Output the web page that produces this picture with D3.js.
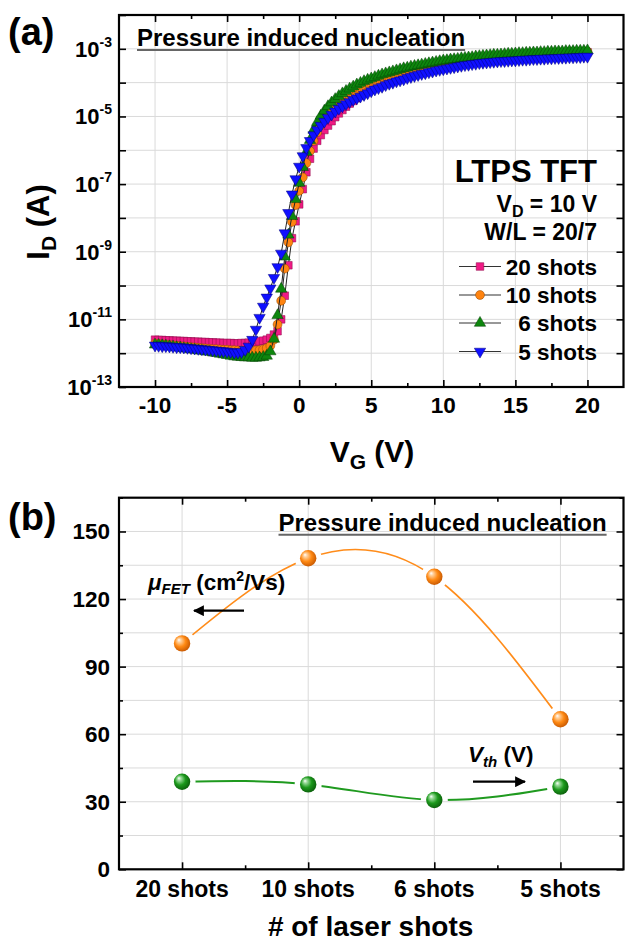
<!DOCTYPE html>
<html>
<head>
<meta charset="utf-8">
<script src="https://cdn.jsdelivr.net/npm/d3@7"></script>
<style>
    body { margin: 0; background: #fff; }
    svg { display: block; font-family: "Liberation Sans", Arial, sans-serif; font-weight: bold; }
    .grid line { stroke: #dadada; stroke-width: 1; }
    .axis path { display: none; }
    .axis line { stroke: #000; stroke-width: 1.6; }
    .frame { fill: none; stroke: #000; stroke-width: 2.2; }
</style>
</head>
<body>
<div id="fig"></div>
<script>
"use strict"

// ---- panel (a): transfer curves, gate sweep in V, drain current as log10(A)
const VG = [
    -10,-9.75,-9.5,-9.25,-9,-8.75,-8.5,-8.25,-8,-7.75,-7.5,-7.25,-7,-6.75,-6.5,-6.25,-6,-5.75,-5.5,-5.25,
    -5,-4.75,-4.5,-4.25,-4,-3.75,-3.5,-3.25,-3,-2.75,-2.5,-2.25,-2,-1.75,-1.5,-1.25,-1,-0.75,-0.5,-0.25,
    0,0.25,0.5,0.75,1,1.25,1.5,1.75,2,2.25,2.5,2.75,3,3.25,3.5,3.75,4,4.25,4.5,4.75,
    5,5.25,5.5,5.75,6,6.25,6.5,6.75,7,7.25,7.5,7.75,8,8.25,8.5,8.75,9,9.25,9.5,9.75,
    10,10.25,10.5,10.75,11,11.25,11.5,11.75,12,12.25,12.5,12.75,13,13.25,13.5,13.75,14,14.25,14.5,14.75,
    15,15.25,15.5,15.75,16,16.25,16.5,16.75,17,17.25,17.5,17.75,18,18.25,18.5,18.75,19,19.25,19.5,19.75,20
]
const logI20 = [
    -11.60,-11.61,-11.61,-11.62,-11.62,-11.63,-11.63,-11.64,-11.64,-11.65,-11.65,-11.66,-11.66,-11.67,-11.67,-11.68,-11.68,-11.69,-11.69,-11.70,
    -11.70,-11.70,-11.71,-11.71,-11.70,-11.70,-11.69,-11.68,-11.67,-11.65,-11.63,-11.60,-11.55,-11.45,-11.35,-11.00,-10.30,-9.40,-8.60,-8.10,
    -7.60,-7.15,-6.65,-6.25,-5.95,-5.72,-5.55,-5.40,-5.27,-5.14,-5.02,-4.91,-4.81,-4.71,-4.62,-4.54,-4.46,-4.38,-4.31,-4.24,
    -4.18,-4.13,-4.08,-4.04,-4.00,-3.96,-3.92,-3.88,-3.84,-3.81,-3.77,-3.74,-3.71,-3.68,-3.65,-3.62,-3.59,-3.56,-3.53,-3.51,
    -3.48,-3.46,-3.44,-3.42,-3.40,-3.38,-3.36,-3.34,-3.33,-3.31,-3.30,-3.28,-3.27,-3.26,-3.25,-3.24,-3.23,-3.22,-3.21,-3.20,
    -3.20,-3.19,-3.18,-3.18,-3.17,-3.16,-3.16,-3.15,-3.15,-3.14,-3.14,-3.13,-3.13,-3.12,-3.12,-3.12,-3.11,-3.11,-3.11,-3.10,-3.10
]
const logI10 = [
    -11.72,-11.73,-11.74,-11.75,-11.76,-11.77,-11.78,-11.79,-11.80,-11.81,-11.82,-11.83,-11.84,-11.85,-11.86,-11.87,-11.88,-11.88,-11.89,-11.90,
    -11.90,-11.91,-11.91,-11.92,-11.92,-11.92,-11.93,-11.93,-11.92,-11.91,-11.89,-11.85,-11.78,-11.60,-11.15,-10.45,-9.50,-8.72,-8.12,-7.62,
    -7.20,-6.80,-6.38,-6.02,-5.72,-5.47,-5.26,-5.10,-4.96,-4.85,-4.75,-4.66,-4.57,-4.49,-4.41,-4.34,-4.27,-4.21,-4.15,-4.09,
    -4.03,-3.99,-3.95,-3.91,-3.87,-3.84,-3.80,-3.77,-3.74,-3.71,-3.68,-3.65,-3.63,-3.60,-3.58,-3.55,-3.53,-3.51,-3.49,-3.47,
    -3.45,-3.43,-3.41,-3.39,-3.37,-3.36,-3.34,-3.33,-3.31,-3.30,-3.29,-3.27,-3.26,-3.25,-3.24,-3.23,-3.22,-3.21,-3.20,-3.19,
    -3.19,-3.18,-3.17,-3.16,-3.16,-3.15,-3.14,-3.14,-3.13,-3.13,-3.12,-3.12,-3.11,-3.11,-3.10,-3.10,-3.09,-3.09,-3.09,-3.08,-3.08
]
const logI6 = [
    -11.75,-11.76,-11.77,-11.78,-11.80,-11.81,-11.83,-11.84,-11.86,-11.87,-11.89,-11.90,-11.92,-11.93,-11.95,-11.96,-11.98,-12.00,-12.02,-12.04,
    -12.06,-12.08,-12.10,-12.11,-12.12,-12.13,-12.13,-12.14,-12.14,-12.13,-12.12,-12.08,-11.95,-11.58,-10.88,-10.10,-9.15,-8.50,-7.95,-7.45,
    -6.97,-6.50,-6.05,-5.70,-5.40,-5.17,-4.98,-4.83,-4.70,-4.59,-4.49,-4.40,-4.32,-4.25,-4.18,-4.12,-4.06,-4.01,-3.96,-3.92,
    -3.88,-3.84,-3.80,-3.76,-3.73,-3.70,-3.67,-3.64,-3.61,-3.58,-3.56,-3.53,-3.51,-3.49,-3.47,-3.45,-3.43,-3.41,-3.39,-3.37,
    -3.35,-3.34,-3.32,-3.31,-3.30,-3.28,-3.27,-3.26,-3.25,-3.23,-3.22,-3.21,-3.20,-3.19,-3.18,-3.18,-3.17,-3.16,-3.15,-3.15,
    -3.14,-3.13,-3.13,-3.12,-3.12,-3.11,-3.11,-3.10,-3.10,-3.09,-3.09,-3.08,-3.08,-3.08,-3.07,-3.07,-3.07,-3.06,-3.06,-3.06,-3.05
]
const logI5 = [
    -11.77,-11.78,-11.79,-11.79,-11.80,-11.81,-11.82,-11.82,-11.83,-11.84,-11.85,-11.86,-11.87,-11.88,-11.89,-11.90,-11.91,-11.92,-11.93,-11.94,
    -11.95,-11.96,-11.98,-11.98,-11.96,-11.90,-11.80,-11.60,-11.30,-10.95,-10.62,-10.35,-10.08,-9.77,-9.45,-9.05,-8.45,-7.85,-7.30,-6.85,
    -6.48,-6.17,-5.93,-5.72,-5.55,-5.40,-5.27,-5.15,-5.04,-4.94,-4.85,-4.77,-4.70,-4.63,-4.57,-4.51,-4.46,-4.41,-4.36,-4.31,
    -4.25,-4.20,-4.16,-4.12,-4.07,-4.03,-4.00,-3.96,-3.93,-3.90,-3.86,-3.83,-3.80,-3.77,-3.74,-3.72,-3.69,-3.67,-3.64,-3.62,
    -3.60,-3.58,-3.56,-3.54,-3.52,-3.50,-3.48,-3.47,-3.45,-3.44,-3.42,-3.41,-3.40,-3.39,-3.38,-3.37,-3.36,-3.36,-3.35,-3.34,
    -3.34,-3.33,-3.32,-3.32,-3.31,-3.30,-3.30,-3.29,-3.29,-3.28,-3.28,-3.27,-3.27,-3.26,-3.26,-3.25,-3.25,-3.24,-3.24,-3.23,-3.23
]
const seriesNames = ["20 shots", "10 shots", "6 shots", "5 shots"]
const xTicksA = [-10, -5, 0, 5, 10, 15, 20]
const xMinorA = [-7.5, -2.5, 2.5, 7.5, 12.5, 17.5]
const yLabelExpA = [-13, -11, -9, -7, -5, -3]

// ---- panel (b): mobility and threshold voltage vs laser shots
const shotCats = ["20 shots", "10 shots", "6 shots", "5 shots"]
const mobility = [100.3, 138.1, 129.9, 66.6]
const vth = [38.9, 37.7, 30.8, 36.7]
const yTicksB = [0, 30, 60, 90, 120, 150]
const yMinorB = [15, 45, 75, 105, 135, 165]
const yGridB = [15, 30, 45, 60, 75, 90, 105, 120, 135, 150]

const fig = (function() {

    const W = 625, H = 944
    const svg = d3.select("#fig").append("svg")
                    .attr("width", W).attr("height", H)
                    .attr("viewBox", `0 0 ${ W } ${ H }`)
    const defs = svg.append("defs")

    // inward ticks on all four sides
    function ticks(g, axisFn, scale, values, size, tx, ty) {
        g.append("g")
            .attr("class", "axis")
            .attr("transform", `translate(${ tx }, ${ ty })`)
            .call(axisFn(scale).tickValues(values).tickSize(size).tickFormat(""))
    }

    function underlined(g, txt, x, y, anchor, size) {
        const t = g.append("text")
                    .attr("x", x).attr("y", y)
                    .attr("text-anchor", anchor)
                    .attr("font-size", size)
                    .text(txt)
        const bb = t.node().getBBox()
        g.append("line")
            .attr("x1", bb.x).attr("x2", bb.x + bb.width)
            .attr("y1", y + 4).attr("y2", y + 4)
            .attr("stroke", "#666").attr("stroke-width", 2)
    }

    function panelA() {
        const f = { l: 119, r: 623.5, t: 15, b: 387 }
        const x = d3.scaleLinear().domain([-12.5, 22.5]).range([f.l, f.r])
        const y = d3.scaleLog().domain([1e-13, 1e-2]).range([f.b, f.t])
        const g = svg.append("g")

        const decades = d3.range(-12, -2).map(e => Math.pow(10, e))
        const grid = g.append("g").attr("class", "grid")
        grid.selectAll(".gx").data(xTicksA).enter().append("line")
            .attr("x1", d => x(d)).attr("x2", d => x(d)).attr("y1", f.t).attr("y2", f.b)
        grid.selectAll(".gy").data(decades).enter().append("line")
            .attr("x1", f.l).attr("x2", f.r).attr("y1", d => y(d)).attr("y2", d => y(d))

        // series
        const series = [
            { name: seriesNames[0], logs: logI20, fill: "#ef1a85", stroke: "#8a0a48", sym: d3.symbolSquare, size: 58, rot: 0 },
            { name: seriesNames[1], logs: logI10, fill: "#ff8410", stroke: "#8a4200", sym: d3.symbolCircle, size: 62, rot: 0 },
            { name: seriesNames[2], logs: logI6,  fill: "#0e860e", stroke: "#054005", sym: d3.symbolTriangle, size: 56, rot: 0 },
            { name: seriesNames[3], logs: logI5,  fill: "#1010ff", stroke: "#00007a", sym: d3.symbolTriangle, size: 56, rot: 180 },
        ]
        const line = d3.line().x(d => x(d[0])).y(d => y(d[1]))
        series.forEach(s => {
            const pts = VG.map((v, i) => [v, Math.pow(10, s.logs[i])])
            const sg = g.append("g")
            sg.append("path").datum(pts)
                .attr("d", line).attr("fill", "none").attr("stroke", "#222").attr("stroke-width", 1)
            sg.selectAll("path.pt").data(pts).enter().append("path")
                .attr("class", "pt")
                .attr("d", d3.symbol().type(s.sym).size(s.size))
                .attr("fill", s.fill).attr("stroke", s.stroke).attr("stroke-width", 0.5)
                .attr("transform", d => `translate(${ x(d[0]) }, ${ y(d[1]) }) rotate(${ s.rot })`)
        })

        // ticks
        const minorY = y.ticks().filter(v => Math.abs(Math.log10(v) - Math.round(Math.log10(v))) > 1e-6)
        ticks(g, d3.axisBottom, x, xTicksA, -7, 0, f.b)
        ticks(g, d3.axisBottom, x, xMinorA, -4, 0, f.b)
        ticks(g, d3.axisTop, x, xTicksA, -7, 0, f.t)
        ticks(g, d3.axisTop, x, xMinorA, -4, 0, f.t)
        ticks(g, d3.axisLeft, y, decades.concat([1e-13, 1e-2]), -7, f.l, 0)
        ticks(g, d3.axisLeft, y, minorY, -4, f.l, 0)
        ticks(g, d3.axisRight, y, decades, -7, f.r, 0)
        ticks(g, d3.axisRight, y, minorY, -4, f.r, 0)

        g.append("rect").attr("class", "frame")
            .attr("x", f.l).attr("y", f.t).attr("width", f.r - f.l).attr("height", f.b - f.t)

        // tick labels
        g.selectAll(".xl").data(xTicksA).enter().append("text")
            .attr("x", d => x(d)).attr("y", 413).attr("text-anchor", "middle")
            .attr("font-size", 22.5).text(d => d)
        yLabelExpA.forEach(e => {
            const t = g.append("text")
                        .attr("x", 112).attr("y", y(Math.pow(10, e)) + 8)
                        .attr("text-anchor", "end").attr("font-size", 22)
            t.append("tspan").text("10")
            t.append("tspan").attr("dy", -10).attr("font-size", 14).text(e)
        })

        // axis titles
        const yt = g.append("text")
                    .attr("transform", `translate(49, 222) rotate(-90)`)
                    .attr("text-anchor", "middle").attr("font-size", 31)
        yt.append("tspan").text("I")
        yt.append("tspan").attr("dy", 7).attr("font-size", 21).text("D")
        yt.append("tspan").attr("dy", -7).text(" (A)")

        const xt = g.append("text")
                    .attr("x", 372).attr("y", 462)
                    .attr("text-anchor", "middle").attr("font-size", 30)
        xt.append("tspan").text("V")
        xt.append("tspan").attr("dy", 7).attr("font-size", 21).text("G")
        xt.append("tspan").attr("dy", -7).text(" (V)")

        g.append("text").attr("x", 8).attr("y", 45).attr("font-size", 38).text("(a)")
        underlined(g, "Pressure induced nucleation", 137, 46, "start", 24)

        // device info + legend
        g.append("text").attr("x", 597).attr("y", 182).attr("text-anchor", "end")
            .attr("font-size", 31).text("LTPS TFT")
        const vd = g.append("text").attr("x", 597).attr("y", 212).attr("text-anchor", "end").attr("font-size", 23)
        vd.append("tspan").text("V")
        vd.append("tspan").attr("dy", 5).attr("font-size", 16).text("D")
        vd.append("tspan").attr("dy", -5).text(" = 10 V")
        g.append("text").attr("x", 597).attr("y", 240).attr("text-anchor", "end")
            .attr("font-size", 23).text("W/L = 20/7")

        const rows = [266.5, 295, 323, 351.5]
        series.forEach((s, i) => {
            const ly = rows[i]
            g.append("line").attr("x1", 459).attr("x2", 501).attr("y1", ly).attr("y2", ly)
                .attr("stroke", "#333").attr("stroke-width", 1.2)
            g.append("path")
                .attr("d", d3.symbol().type(s.sym).size(s.size)())
                .attr("fill", s.fill).attr("stroke", s.stroke).attr("stroke-width", 0.5)
                .attr("transform", `translate(480, ${ ly }) rotate(${ s.rot })`)
            g.append("text").attr("x", 597).attr("y", ly + 8).attr("text-anchor", "end")
                .attr("font-size", 22.5).text(s.name)
        })
    }

    function sphere(id, light, base, dark) {
        const gr = defs.append("radialGradient").attr("id", id)
                    .attr("cx", "45%").attr("cy", "45%").attr("r", "60%")
                    .attr("fx", "30%").attr("fy", "28%")
        gr.append("stop").attr("offset", "0%").attr("stop-color", "#ffffff")
        gr.append("stop").attr("offset", "18%").attr("stop-color", light)
        gr.append("stop").attr("offset", "55%").attr("stop-color", base)
        gr.append("stop").attr("offset", "100%").attr("stop-color", dark)
    }

    function panelB() {
        const f = { l: 119, r: 623.5, t: 497.7, b: 869.3 }
        const x = d3.scaleLinear().domain([-0.5, 3.5]).range([f.l, f.r])
        const y = d3.scaleLinear().domain([0, 165]).range([f.b, f.t])
        const g = svg.append("g")
        const idx = shotCats.map((c, i) => i)

        const grid = g.append("g").attr("class", "grid")
        grid.selectAll(".gx").data(idx).enter().append("line")
            .attr("x1", d => x(d)).attr("x2", d => x(d)).attr("y1", f.t).attr("y2", f.b)
        grid.selectAll(".gy").data(yGridB).enter().append("line")
            .attr("x1", f.l).attr("x2", f.r).attr("y1", d => y(d)).attr("y2", d => y(d))

        const half = [0.5, 1.5, 2.5]
        ticks(g, d3.axisBottom, x, idx, -7, 0, f.b)
        ticks(g, d3.axisBottom, x, half, -4, 0, f.b)
        ticks(g, d3.axisTop, x, idx, -7, 0, f.t)
        ticks(g, d3.axisTop, x, half, -4, 0, f.t)
        ticks(g, d3.axisLeft, y, yTicksB, -7, f.l, 0)
        ticks(g, d3.axisLeft, y, yMinorB, -4, f.l, 0)
        ticks(g, d3.axisRight, y, yTicksB, -7, f.r, 0)
        ticks(g, d3.axisRight, y, yMinorB, -4, f.r, 0)

        g.append("rect").attr("class", "frame")
            .attr("x", f.l).attr("y", f.t).attr("width", f.r - f.l).attr("height", f.b - f.t)

        sphere("sphOrange", "#ffd2a0", "#ff8a14", "#c25400")
        sphere("sphGreen", "#9edc9e", "#1c991c", "#0a5a0a")

        const curves = [
            { vals: mobility, color: "#ff8c1a", width: 1.6, grad: "sphOrange", id: "mMob" },
            { vals: vth, color: "#1f9a1f", width: 2, grad: "sphGreen", id: "mVth" },
        ]
        const line = d3.line().curve(d3.curveNatural).x((d, i) => x(i)).y(d => y(d))
        curves.forEach(c => {
            // gap around each symbol, like the plotting program does
            const m = defs.append("mask").attr("id", c.id).attr("maskUnits", "userSpaceOnUse")
                        .attr("x", 0).attr("y", 0).attr("width", W).attr("height", H)
            m.append("rect").attr("width", W).attr("height", H).attr("fill", "#fff")
            m.selectAll("circle").data(c.vals).enter().append("circle")
                .attr("cx", (d, i) => x(i)).attr("cy", d => y(d)).attr("r", 13.5).attr("fill", "#000")
            g.append("path").datum(c.vals)
                .attr("d", line).attr("fill", "none")
                .attr("stroke", c.color).attr("stroke-width", c.width)
                .attr("mask", `url(#${ c.id })`)
            g.selectAll(null).data(c.vals).enter().append("circle")
                .attr("cx", (d, i) => x(i)).attr("cy", d => y(d)).attr("r", 8.2)
                .attr("fill", `url(#${ c.grad })`)
        })

        // labels
        g.selectAll(".xl").data(shotCats).enter().append("text")
            .attr("x", (d, i) => x(i)).attr("y", 897).attr("text-anchor", "middle")
            .attr("font-size", 23).text(d => d)
        g.selectAll(".yl").data(yTicksB).enter().append("text")
            .attr("x", 110).attr("y", d => y(d) + 8).attr("text-anchor", "end")
            .attr("font-size", 22.5).text(d => d)

        g.append("text").attr("x", 370.6).attr("y", 936).attr("text-anchor", "middle")
            .attr("font-size", 28).text("# of laser shots")
        g.append("text").attr("x", 8).attr("y", 530).attr("font-size", 38).text("(b)")
        underlined(g, "Pressure induced nucleation", 606.6, 530.7, "end", 24)

        // annotations with arrows
        defs.append("marker").attr("id", "arrowHead")
            .attr("viewBox", "0 0 10 10").attr("refX", 9).attr("refY", 5)
            .attr("markerWidth", 5).attr("markerHeight", 5).attr("orient", "auto")
            .attr("markerUnits", "strokeWidth")
            .append("path").attr("d", "M0,0 L10,5 L0,10 z").attr("fill", "#000")

        const mu = g.append("text").attr("x", 148).attr("y", 590).attr("font-size", 22.5)
        mu.append("tspan").attr("font-style", "italic").text("\u03bc")
        mu.append("tspan").attr("font-style", "italic").attr("font-size", 15).attr("dy", 4).text("FET")
        mu.append("tspan").attr("dy", -4).text(" (cm")
        mu.append("tspan").attr("font-size", 14).attr("dy", -9).text("2")
        mu.append("tspan").attr("dy", 9).text("/Vs)")
        g.append("line").attr("x1", 244).attr("x2", 194).attr("y1", 610.7).attr("y2", 610.7)
            .attr("stroke", "#000").attr("stroke-width", 2.2).attr("marker-end", "url(#arrowHead)")

        const vt = g.append("text").attr("x", 468).attr("y", 761.5).attr("font-size", 22.5)
        vt.append("tspan").attr("font-style", "italic").text("V")
        vt.append("tspan").attr("font-style", "italic").attr("font-size", 15).attr("dy", 5).text("th")
        vt.append("tspan").attr("dy", -5).text(" (V)")
        g.append("line").attr("x1", 473).attr("x2", 525).attr("y1", 781.7).attr("y2", 781.7)
            .attr("stroke", "#000").attr("stroke-width", 2.2).attr("marker-end", "url(#arrowHead)")
    }

    panelA()
    panelB()
    return svg
}())
</script>
</body>
</html>
